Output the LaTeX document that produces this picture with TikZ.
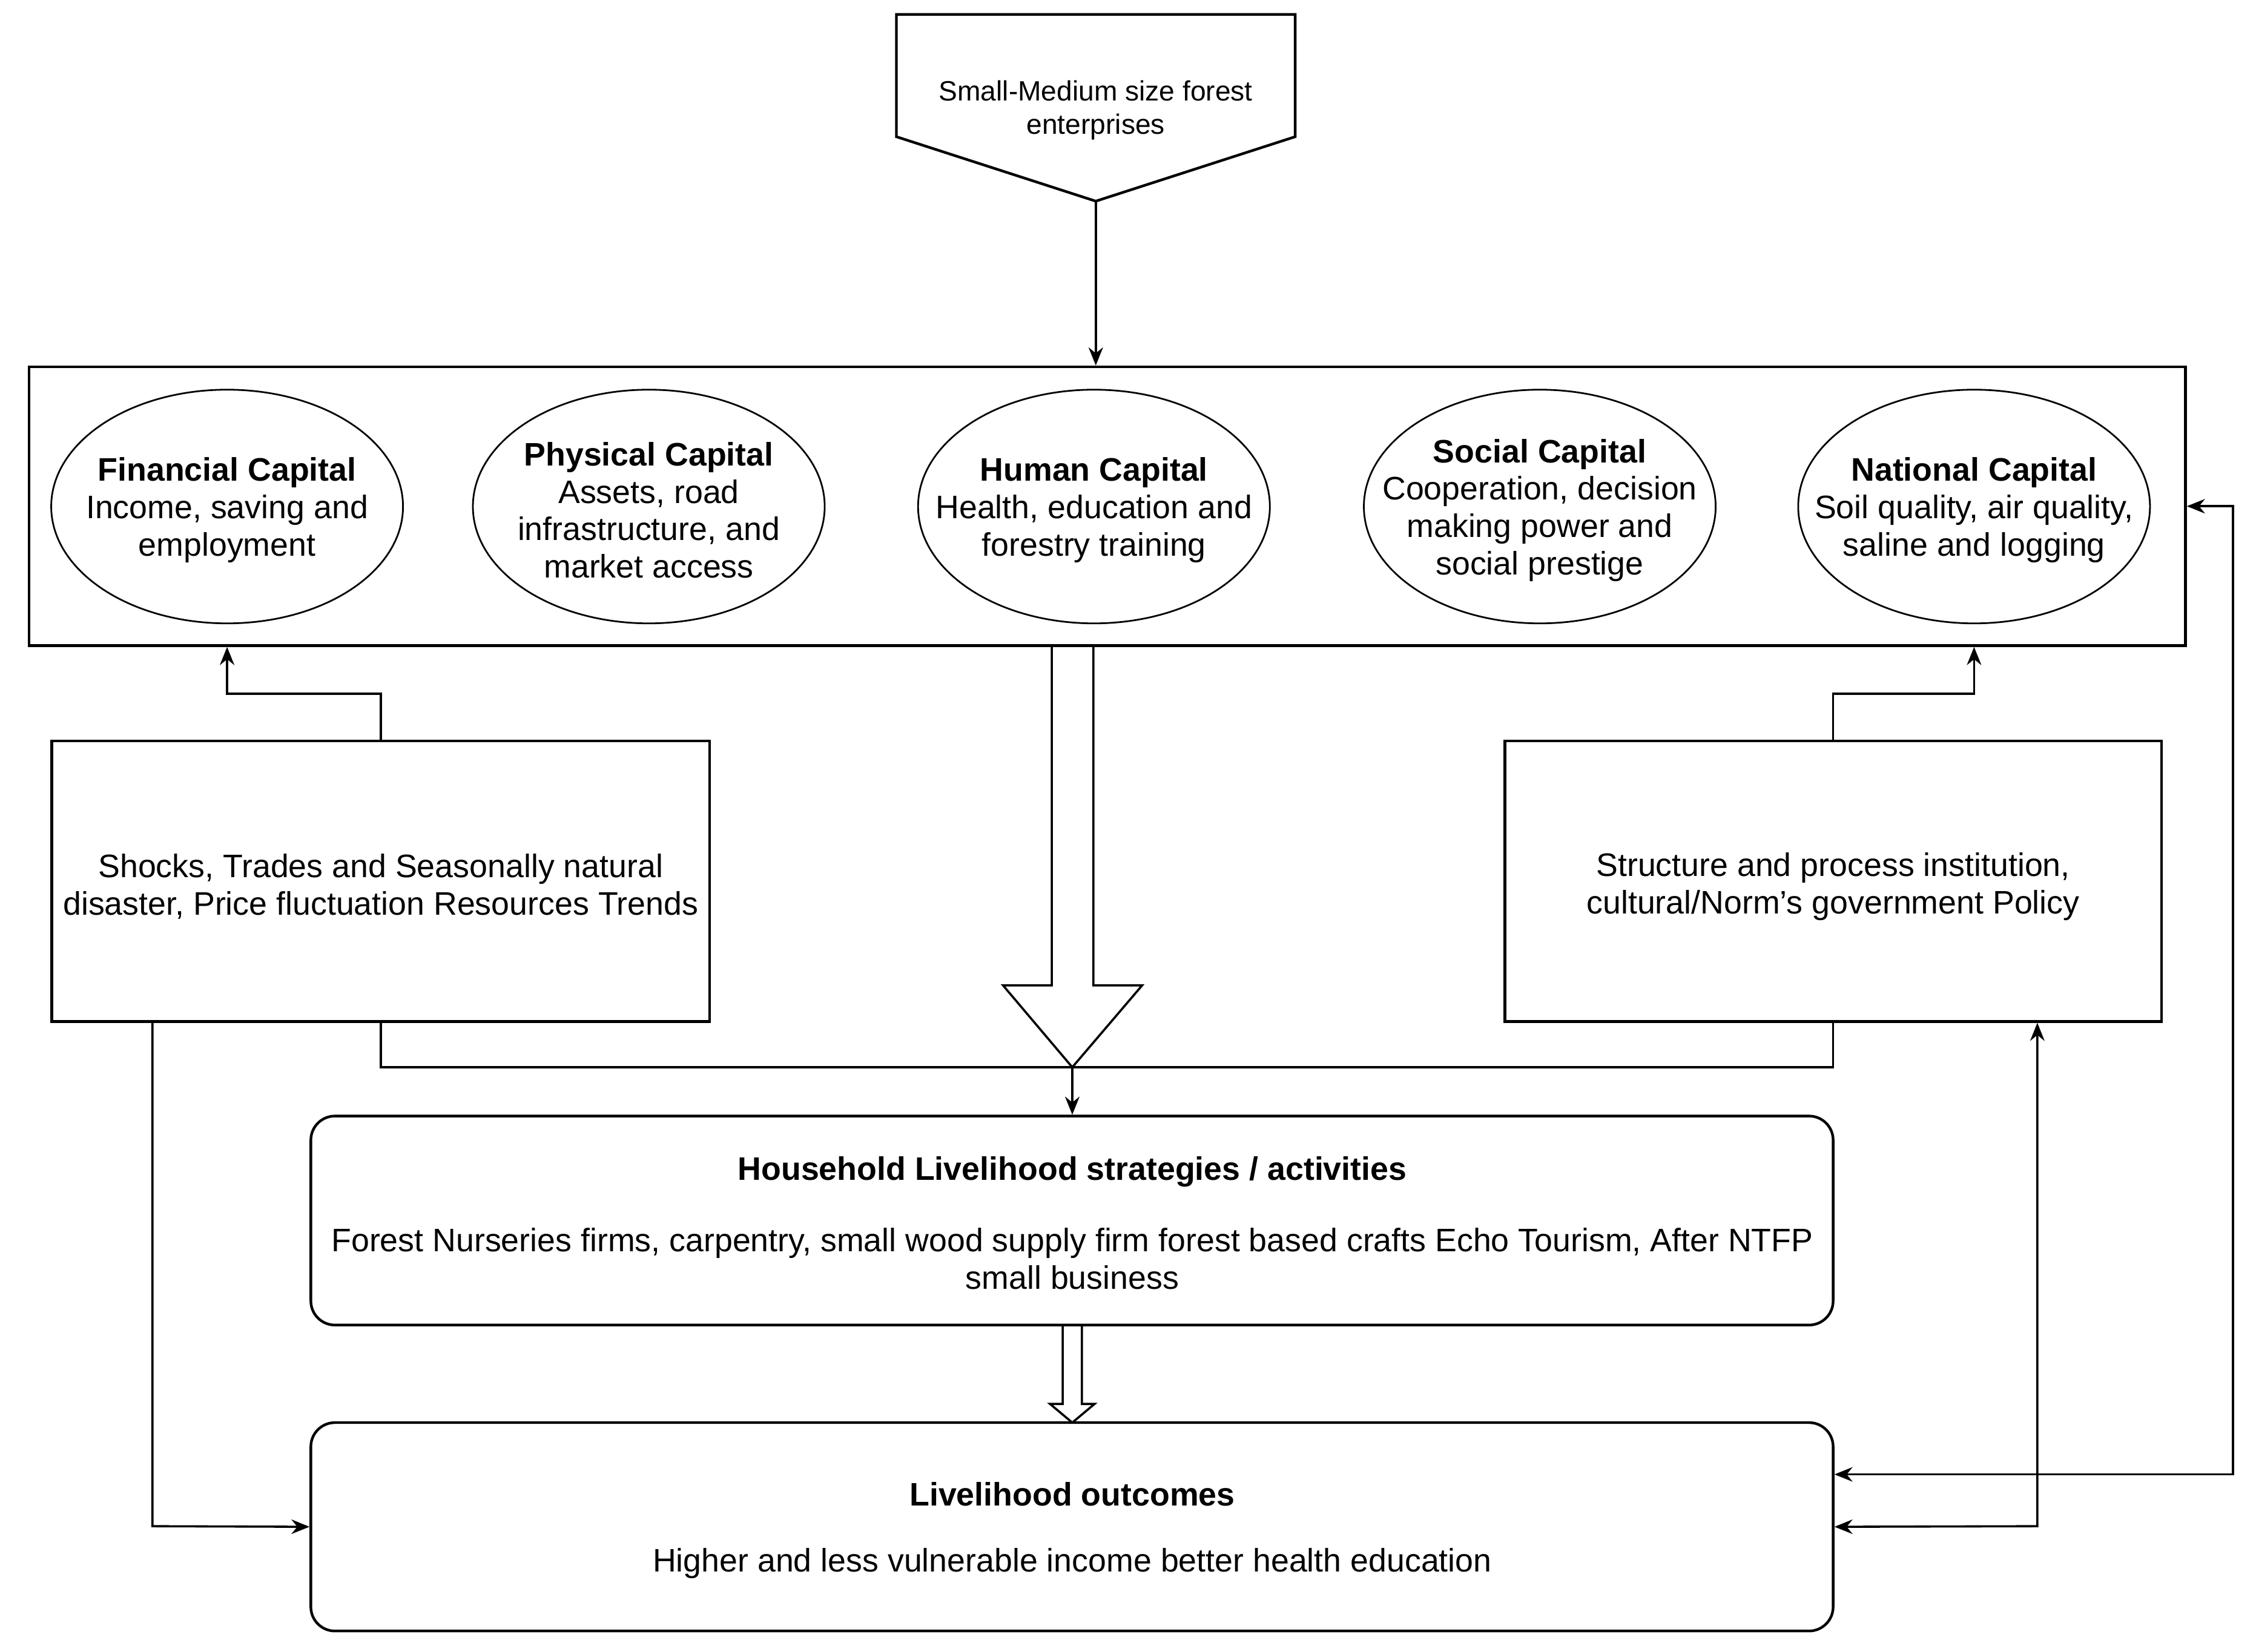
\documentclass[tikz,border=0pt]{standalone}
\usepackage{fontspec}
\setmainfont{Liberation Sans}
\usetikzlibrary{arrows.meta,shapes.geometric,calc}
\tikzset{
  box/.style={draw, line width=1.1pt, inner sep=0pt, align=center, font=\fontsize{13.5}{15.5}\selectfont},
  rbox/.style={box, rounded corners=10pt},
  capell/.style={draw, ellipse, line width=0.7pt, inner sep=0pt, minimum width=146pt, minimum height=97pt},
  captext/.style={align=center, inner sep=0pt, yshift=-1.5pt, font=\fontsize{13.5}{15.5}\selectfont},
  txt/.style={align=center, inner sep=0pt, font=\fontsize{13.5}{15.5}\selectfont},
  conn/.style={line width=0.9pt, -{Stealth[length=7.5pt,width=6pt]}},
  biconn/.style={line width=0.9pt, {Stealth[length=7.5pt,width=6pt]}-{Stealth[length=7.5pt,width=6pt]}},
  plain/.style={line width=0.9pt},
  hollow/.style={line width=0.9pt, line join=miter},
}
\begin{document}
\begin{tikzpicture}[x=0.25pt,y=-0.25pt]
\useasboundingbox (0,0) rectangle (3745,2742);
% top pentagon
\draw[line width=1.1pt] (1488,24) -- (2150,24) -- (2150,227) -- (1819,334) -- (1488,227) -- cycle;
\coordinate (smetip) at (1819,334);
\node[align=center, inner sep=0pt, font=\fontsize{11.6}{14}\selectfont] (sme) at (1819,183) {Small-Medium size forest\\enterprises};
% capital box
\node[box, minimum width=895pt, minimum height=115.75pt] (cap) at (1838,840.5) {};
\node[capell] (fin) at (377,841) {};
\node[captext] (fint) at (fin) {\textbf{Financial Capital}\\Income, saving and\\employment};
\node[capell] (phy) at (1077,841) {};
\node[captext] (phyt) at (phy) {\textbf{Physical Capital}\\Assets, road\\infrastructure, and\\market access};
\node[capell] (hum) at (1816,841) {};
\node[captext] (humt) at (hum) {\textbf{Human Capital}\\Health, education and\\forestry training};
\node[capell] (soc) at (2556,841) {};
\node[captext] (soct) at (soc) {\textbf{Social Capital}\\Cooperation, decision\\making power and\\social prestige};
\node[capell] (nat) at (3277,841) {};
\node[captext] (natt) at (nat) {\textbf{National Capital}\\Soil quality, air quality,\\saline and logging};
% arrow from pentagon
\draw[conn] (smetip) -- (smetip |- cap.north);
% side boxes
\node[box, minimum width=273pt, minimum height=116.5pt] (shk) at (632,1463) {};
\node[txt] (shkt) at (632,1472) {Shocks, Trades and Seasonally natural\\disaster, Price fluctuation Resources Trends};
\node[box, minimum width=272.5pt, minimum height=116.5pt] (str) at (3043,1463) {};
\node[txt] (strt) at (3043,1472) {Structure and process institution,\\cultural/Norm’s government Policy};
\draw[conn] (shk.north) -- ++(0,-76) -| (fin |- cap.south);
\draw[conn] (str.north) -- ++(0,-76) -| (nat |- cap.south);
% household and outcomes
\node[rbox, minimum width=631.75pt, minimum height=86.75pt] (hh) at (1779.5,2026.5) {};
\node[txt] (hht) at (1780,1946) {\textbf{Household Livelihood strategies / activities}};
\node[txt] (hhb) at (1780,2090) {Forest Nurseries firms, carpentry, small wood supply firm forest based crafts Echo Tourism, After NTFP\\small business};
\node[rbox, minimum width=631.75pt, minimum height=86.5pt] (out) at (1779.5,2535) {};
\node[txt] (outt) at (1780,2481) {\textbf{Livelihood outcomes}};
\node[txt] (outb) at (1780,2596) {Higher and less vulnerable income better health education};
% big hollow arrow
\draw[hollow] (1746,1072) -- (1746,1636) -- (1665,1636) -- (1780,1772) -- (1896,1636) -- (1815,1636) -- (1815,1072);
% merge line
\coordinate (merge) at (1780,1772);
\draw[plain] (shk.south) |- (merge) -| (str.south);
\draw[conn] (merge) -- (merge |- hh.north);
% small hollow arrow
\draw[hollow] (1764,2200) -- (1764,2331) -- (1743,2331) -- (1780,2362) -- (1817,2331) -- (1796,2331) -- (1796,2200);
% left connector
\coordinate (lft) at (253,2534);
\draw[conn] (shk.south -| lft) -- (lft) -- (out.west);
% right connectors
\coordinate (r1) at (3382,2534);
\draw[biconn] (str.south -| r1) -- (r1) -- (out.east);
\coordinate (r2) at (3707,2448);
\draw[biconn] (cap.east) -| (r2) -- (r2 -| out.east);
\end{tikzpicture}
\end{document}
